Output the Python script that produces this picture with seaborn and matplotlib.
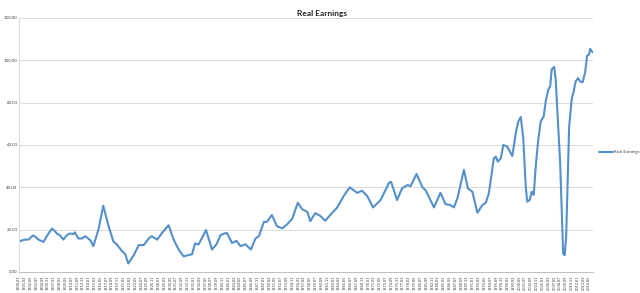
import matplotlib
matplotlib.use("Agg")
import matplotlib.pyplot as plt
import numpy as np
import pandas as pd
import seaborn as sns

sns.set_theme(style="white")
plt.rcParams["font.family"] = ["Lato", "DejaVu Sans"]

# ── data (decimal year, real earnings) ───────────────────────────────────────
YEARS = [
    1900.0, 1901.2, 1901.9, 1902.8, 1903.2, 1903.9, 1904.9, 1905.7, 1906.6, 1907.0,
    1907.7, 1908.2, 1908.9, 1909.6, 1910.2, 1910.9, 1911.2, 1911.9, 1912.6, 1913.3,
    1914.3, 1914.9, 1915.9, 1916.9, 1917.9, 1918.9, 1919.6, 1920.6, 1921.3, 1921.9,
    1923.0, 1924.0, 1925.0, 1926.0, 1926.6, 1927.7, 1928.7, 1930.0, 1931.0, 1932.0,
    1933.0, 1934.7, 1935.3, 1936.0, 1937.5, 1938.7, 1939.6, 1940.4, 1941.2, 1941.7,
    1942.7, 1943.6, 1944.4, 1945.4, 1946.5, 1947.4, 1948.1, 1949.1, 1949.7, 1950.7,
    1951.7, 1952.8, 1953.8, 1954.8, 1955.9, 1956.8, 1957.8, 1958.4, 1959.4, 1960.4,
    1961.4, 1962.4, 1963.8, 1965.1, 1966.3, 1967.8, 1968.8, 1969.8, 1971.0, 1972.5,
    1974.2, 1974.6, 1975.8, 1976.8, 1977.9, 1978.5, 1979.7, 1980.9, 1981.5, 1983.2,
    1984.5, 1985.5, 1986.5, 1987.2, 1987.9, 1989.2, 1990.0, 1990.9, 1991.9, 1992.9,
    1993.6, 1994.2, 1995.2, 1995.6, 1996.0, 1996.6, 1997.1, 1997.9, 1998.9, 1999.6,
    2000.1, 2000.6, 2001.1, 2001.6, 2001.9, 2002.4, 2002.8, 2003.2, 2003.6, 2004.1,
    2004.6, 2005.2, 2005.6, 2006.1, 2006.5, 2006.8, 2007.3, 2007.6, 2008.1, 2008.5,
    2008.8, 2009.1, 2009.4, 2009.7, 2010.0, 2010.3, 2010.8, 2011.2, 2011.6, 2012.1,
    2012.5, 2013.0, 2013.5, 2013.9, 2014.3, 2014.5, 2015.0,
]
REAL_EARNINGS = [
    14.5, 15.3, 15.3, 17.2, 16.8, 15.3, 14.2, 17.4, 20.5, 19.8,
    17.9, 17.4, 15.3, 17.4, 18.2, 17.9, 18.7, 15.8, 15.8, 16.9,
    15.0, 12.2, 19.8, 31.3, 22.1, 14.5, 13.1, 10.0, 8.4, 4.0,
    7.9, 12.7, 12.7, 15.8, 16.9, 15.3, 18.5, 22.1, 15.3, 10.6,
    7.4, 8.4, 13.5, 13.0, 19.8, 10.6, 13.1, 17.4, 18.2, 18.4,
    13.7, 14.7, 12.2, 13.1, 10.6, 15.8, 16.9, 23.7, 23.7, 26.9,
    21.7, 20.6, 22.6, 25.3, 32.7, 29.6, 28.4, 24.0, 27.8, 26.5,
    24.2, 26.9, 30.5, 35.9, 40.0, 37.4, 38.4, 35.9, 30.5, 34.0,
    42.2, 42.6, 34.0, 39.5, 41.1, 40.5, 46.3, 40.0, 38.7, 30.5,
    37.4, 32.1, 31.6, 30.5, 34.8, 48.2, 39.5, 37.9, 28.0, 31.6,
    32.7, 37.2, 53.7, 54.5, 52.1, 53.7, 60.0, 59.2, 54.8, 65.6,
    71.1, 73.2, 63.2, 40.3, 33.2, 34.0, 37.9, 36.4, 49.8, 62.4,
    71.1, 73.5, 80.6, 86.1, 87.7, 95.6, 96.9, 90.9, 68.7, 51.4,
    30.8, 8.7, 7.9, 16.6, 43.5, 68.7, 81.4, 85.3, 90.0, 91.6,
    90.0, 89.6, 94.3, 102.2, 102.7, 105.4, 103.8,
]

# category labels every 14 months, 1900.01 .. 2014.05
TICK_MONTHS = list(range(0, 1373, 14))
TICK_LABELS = [f"{1900 + m // 12}.{m % 12 + 1:02d}" for m in TICK_MONTHS]
Y_TICKS = [0, 20, 40, 60, 80, 100, 120]

LINE_COLOR = "#5490c9"
GRID_COLOR = "#d9d9d9"

df = pd.DataFrame({"year": YEARS, "Real Earnings": REAL_EARNINGS})

fig = plt.figure(figsize=(6.4, 2.93), dpi=100)
ax = fig.add_axes([0.0297, 0.0717, 0.897, 0.867])

sns.lineplot(data=df, x="year", y="Real Earnings", ax=ax,
             color=LINE_COLOR, lw=1.5, label="Real Earnings", legend=False,
             solid_joinstyle="round", solid_capstyle="round")

ax.set_xlim(1900.0, 2015.1)
ax.set_ylim(0, 120)
ax.set_yticks(Y_TICKS)
ax.set_yticklabels([f"{v:.2f}" for v in Y_TICKS], fontsize=3.2, color="#404040")
ax.set_xticks([1900 + m / 12 for m in TICK_MONTHS])
ax.set_xticklabels(TICK_LABELS, rotation=90, fontsize=2.8, color="#404040")
ax.tick_params(axis="both", length=1.2, width=0.4, pad=1.2, colors="#a0a0a0",
               labelcolor="#404040")
ax.tick_params(axis="y", length=0)

ax.grid(axis="y", color=GRID_COLOR, lw=0.7)
ax.grid(axis="x", visible=False)
for side in ("top", "right"):
    ax.spines[side].set_visible(False)
ax.spines["left"].set_color(GRID_COLOR)
ax.spines["left"].set_linewidth(0.7)
ax.spines["bottom"].set_color("#bfbfbf")
ax.spines["bottom"].set_linewidth(0.7)
ax.set_xlabel("")
ax.set_ylabel("")

fig.text(0.503, 0.955, "Real Earnings", ha="center", va="center",
         fontsize=6, fontweight="bold", color="#222222")

handles, labels = ax.get_legend_handles_labels()
fig.legend(handles, labels, loc="center left", bbox_to_anchor=(0.93, 0.481),
           frameon=False, fontsize=3.2, handlelength=3, handletextpad=0.3,
           labelcolor="#404040")

fig.savefig("out.png", dpi=100)
